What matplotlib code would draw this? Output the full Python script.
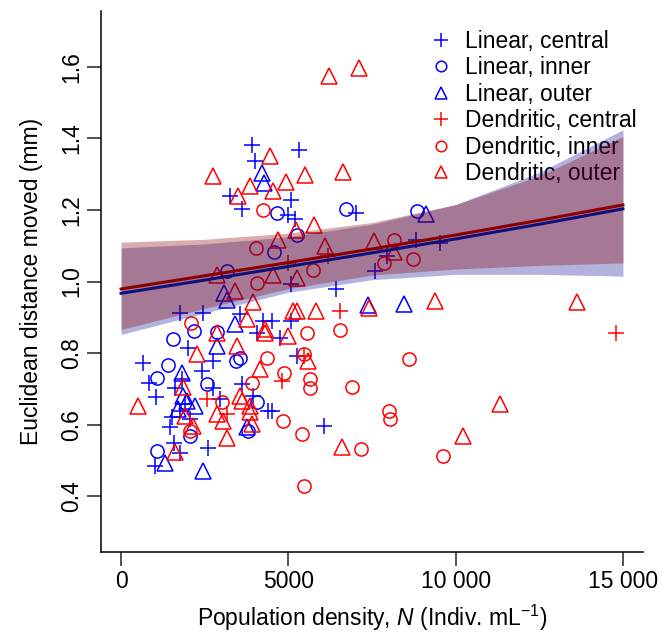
import numpy as np
import matplotlib
matplotlib.use("Agg")
import matplotlib.pyplot as plt

plt.rcParams.update({
    "font.family": ["Liberation Sans", "DejaVu Sans"],
    "font.size": 16.5,
    "mathtext.fontset": "custom",
    "mathtext.rm": "Liberation Sans",
    "mathtext.it": "Liberation Sans:italic",
})

# ---- data: (density, distance) per group ----
lin_central_n = [3909, 4008, 5333, 3260, 3610, 5076, 5004, 5204, 5076, 1765, 2462, 3559,
                 4256, 4507, 5076, 4059, 4756, 2013, 667, 2761, 5255, 846, 2414, 1816,
                 2761, 1615, 3610, 1047, 1914, 1765, 2961, 3957, 4406, 4507, 1516, 1466,
                 6051, 1585, 2611, 1765, 1017, 6431, 7597, 7947, 8815, 9520, 7029, 2064]
lin_central_d = [1.382, 1.336, 1.368, 1.238, 1.204, 1.229, 1.187, 1.175, 0.994, 0.913, 0.913, 0.908,
                 0.889, 0.889, 0.889, 0.857, 0.843, 0.815, 0.773, 0.778, 0.792, 0.717, 0.750, 0.727,
                 0.703, 0.703, 0.713, 0.676, 0.657, 0.638, 0.671, 0.680, 0.638, 0.638, 0.620, 0.592,
                 0.596, 0.550, 0.536, 0.520, 0.485, 0.978, 1.029, 1.071, 1.117, 1.108, 1.192, 0.615]

lin_inner_n = [4675, 5255, 4576, 3180, 2183, 1546, 2880, 1415, 3440, 3559, 1086, 2563,
               4059, 2064, 3808, 1086, 6730, 8844]
lin_inner_d = [1.192, 1.131, 1.083, 1.029, 0.861, 0.838, 0.859, 0.766, 0.778, 0.787, 0.731, 0.713,
               0.662, 0.568, 0.582, 0.527, 1.203, 1.198]

lin_outer_n = [4208, 4277, 3081, 3180, 3410, 2880, 1816, 1863, 1965, 2213, 3760, 1316,
               2462, 9114, 7367, 8465, 1714]
lin_outer_d = [1.303, 1.275, 0.968, 0.948, 0.880, 0.820, 0.745, 0.680, 0.666, 0.652, 0.592, 0.494,
               0.471, 1.190, 0.933, 0.936, 0.643]

den_central_n = [5004, 5453, 4807, 2563, 3161, 6191, 6550, 14805]
den_central_d = [1.052, 0.792, 0.722, 0.671, 0.629, 1.070, 0.917, 0.857]

den_inner_n = [4238, 4038, 5734, 4059, 2085, 5572, 4376, 5453, 4875, 5653, 5632, 3909,
               3012, 2064, 4854, 5405, 5453, 8165, 8725, 7845, 6529, 8593, 6900, 7995,
               8046, 7178, 9610]
den_inner_d = [1.199, 1.094, 1.032, 0.996, 0.885, 0.857, 0.787, 0.796, 0.745, 0.727, 0.701, 0.717,
               0.662, 0.582, 0.610, 0.573, 0.429, 1.115, 1.063, 1.052, 0.864, 0.784, 0.706, 0.638,
               0.617, 0.531, 0.513]

den_outer_n = [6228, 7119, 4457, 2761, 3858, 4935, 5503, 4555, 3508, 6631, 5773, 5234,
               4705, 6102, 2862, 4555, 5255, 3410, 3957, 3760, 5153, 5255, 5832, 4307,
               4307, 5004, 2880, 3460, 2264, 5602, 4157, 1845, 517, 3559, 3610, 3858,
               3858, 2862, 3060, 1914, 2163, 3909, 3161, 1615, 7546, 8165, 7397, 9391,
               13630, 11315, 10220, 6601]
den_outer_d = [1.575, 1.596, 1.350, 1.294, 1.266, 1.277, 1.298, 1.252, 1.238, 1.305, 1.159, 1.145,
               1.117, 1.098, 1.017, 1.017, 1.010, 0.973, 0.942, 0.894, 0.917, 0.917, 0.917, 0.866,
               0.855, 0.847, 0.857, 0.820, 0.796, 0.778, 0.755, 0.706, 0.652, 0.680, 0.666, 0.652,
               0.634, 0.629, 0.610, 0.624, 0.596, 0.601, 0.564, 0.524, 1.112, 1.082, 0.927, 0.945,
               0.942, 0.657, 0.567, 0.538]

# fitted curves and confidence bands
fit_n = [0, 2500, 5000, 7500, 10000, 12500, 15000]
lin_fit = [0.967, 1.004, 1.042, 1.080, 1.119, 1.160, 1.203]
lin_lo = [0.852, 0.912, 0.970, 1.005, 1.020, 1.020, 1.015]
lin_hi = [1.094, 1.105, 1.125, 1.160, 1.215, 1.305, 1.424]
den_fit = [0.979, 1.016, 1.053, 1.091, 1.130, 1.171, 1.214]
den_lo = [0.866, 0.925, 0.980, 1.018, 1.035, 1.045, 1.052]
den_hi = [1.110, 1.118, 1.135, 1.165, 1.215, 1.295, 1.405]

groups = [
    ("Linear, central", lin_central_n, lin_central_d, "+", "blue", 12),
    ("Linear, inner", lin_inner_n, lin_inner_d, "o", "blue", 9.5),
    ("Linear, outer", lin_outer_n, lin_outer_d, "^", "blue", 11),
    ("Dendritic, central", den_central_n, den_central_d, "+", "red", 12),
    ("Dendritic, inner", den_inner_n, den_inner_d, "o", "red", 9.5),
    ("Dendritic, outer", den_outer_n, den_outer_d, "^", "red", 11),
]

fig = plt.figure(figsize=(6.67, 6.37), dpi=100)
ax = fig.add_axes([101 / 667, 1 - 552 / 637, 542 / 667, 541 / 637])

handles = []
for label, xs, ys, m, c, ms in groups:
    h, = ax.plot(xs, ys, linestyle="none", marker=m, markersize=ms,
                 markerfacecolor="none", markeredgecolor=c, markeredgewidth=1.1,
                 label=label, zorder=2)
    handles.append(h)

leg = ax.legend(handles=handles, loc="upper left", bbox_to_anchor=(0.606, 0.965),
                frameon=False, borderpad=0, borderaxespad=0, handlelength=1.0,
                handletextpad=0.55, labelspacing=0.15, markerscale=0.8)
leg.set_zorder(1)

ax.fill_between(fit_n, lin_lo, lin_hi, color="#00008b", alpha=0.3, linewidth=0, zorder=3)
ax.fill_between(fit_n, den_lo, den_hi, color="#8b0000", alpha=0.32, linewidth=0, zorder=3)
ax.plot(fit_n, lin_fit, color="#10107a", lw=2.2, zorder=4)
ax.plot(fit_n, den_fit, color="#8b0000", lw=2.2, zorder=4)

ax.set_xlim(-600, 15600)
ax.set_ylim(0.244, 1.756)
ax.set_xticks([0, 5000, 10000, 15000])
ax.set_xticklabels(["0", "5000", "10 000", "15 000"])
ax.set_yticks([0.4, 0.6, 0.8, 1.0, 1.2, 1.4, 1.6])
ax.set_yticklabels(["0.4", "0.6", "0.8", "1.0", "1.2", "1.4", "1.6"], rotation=90, va="center")

for s in ["top", "right"]:
    ax.spines[s].set_visible(False)
for s in ["left", "bottom"]:
    ax.spines[s].set_linewidth(1.1)
ax.tick_params(length=10, width=1.1, pad=3, color="#222222")

ax.set_xlabel("Population density, $N$ (Indiv. mL$^{-1}$)", labelpad=7)
ax.set_ylabel("Euclidean distance moved (mm)", labelpad=12)

fig.savefig("out.png", dpi=100)
